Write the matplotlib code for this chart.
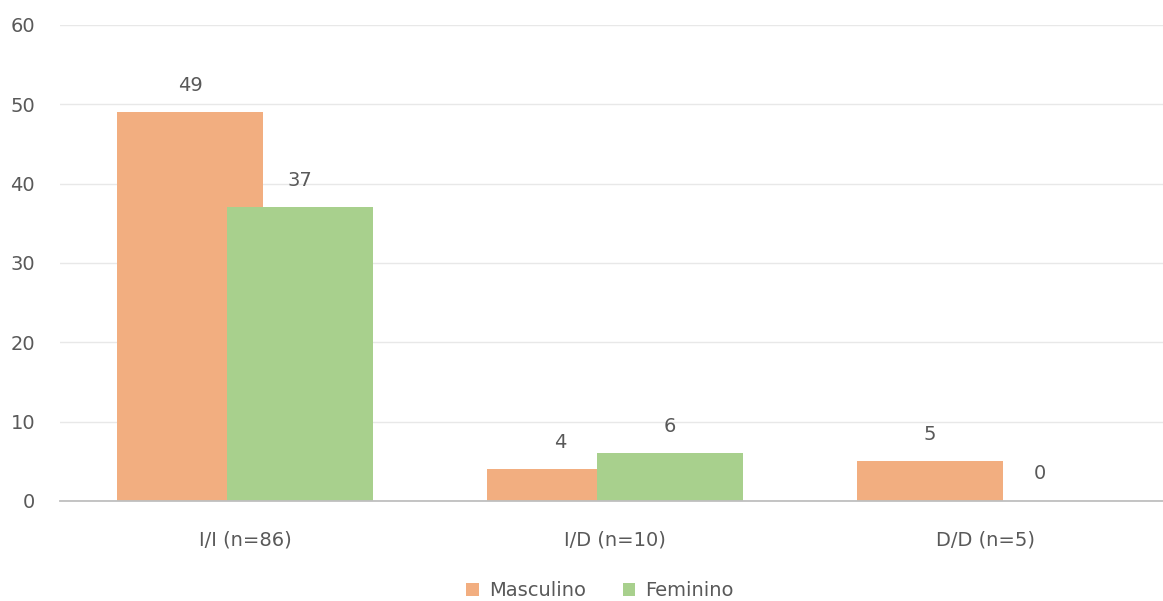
import matplotlib
matplotlib.use("Agg")
import matplotlib.pyplot as plt
import numpy as np

categories = ["I/I (n=86)", "I/D (n=10)", "D/D (n=5)"]
masculino = [49, 4, 5]
feminino = [37, 6, 0]
series_names = ["Masculino", "Feminino"]
y_ticks = [0, 10, 20, 30, 40, 50, 60]

plt.rcParams["font.family"] = ["DejaVu Sans"]
text_color = "#595959"
c_masc = "#F2AE80"
c_fem = "#A8D08D"
fs = 14

fig = plt.figure(figsize=(11.63, 6.01), dpi=100)
ax = fig.add_axes([60 / 1163, 100 / 601, 1110 / 1163, 476 / 601])

x = np.arange(len(categories))
width = 0.392
offset = 0.1486

b1 = ax.bar(x - offset, masculino, width, color=c_masc, label=series_names[0], zorder=2)
b2 = ax.bar(x + offset, feminino, width, color=c_fem, label=series_names[1], zorder=3)

for bars, vals in ((b1, masculino), (b2, feminino)):
    for rect, v in zip(bars, vals):
        ax.annotate(str(v), (rect.get_x() + rect.get_width() / 2, v),
                    xytext=(0, 19.5), textcoords="offset points",
                    ha="center", va="center", fontsize=fs, color=text_color)

ax.set_xlim(-0.5, 2.5)
ax.set_ylim(0, 60)
ax.set_yticks(y_ticks)
ax.set_xticks(x)
ax.set_xticklabels(categories)
ax.tick_params(axis="x", length=0, pad=21, labelsize=fs, labelcolor=text_color)
ax.tick_params(axis="y", length=0, pad=18, labelsize=fs, labelcolor=text_color)

ax.grid(axis="y", color="#E8E8E8", linewidth=1, zorder=0)
ax.set_axisbelow(True)
for s in ("top", "right", "left"):
    ax.spines[s].set_visible(False)
ax.spines["bottom"].set_color("#BFBFBF")
ax.spines["bottom"].set_linewidth(1.3)
ax.spines["bottom"].set_zorder(4)

fig.legend(handles=[b1, b2], labels=series_names, loc="center",
           bbox_to_anchor=(600 / 1163, 1 - 591 / 601), ncol=2, frameon=False,
           fontsize=fs, labelcolor=text_color, handlelength=0.65, handleheight=0.65,
           handletextpad=0.5, columnspacing=1.9)

fig.savefig("out.png", dpi=100)
